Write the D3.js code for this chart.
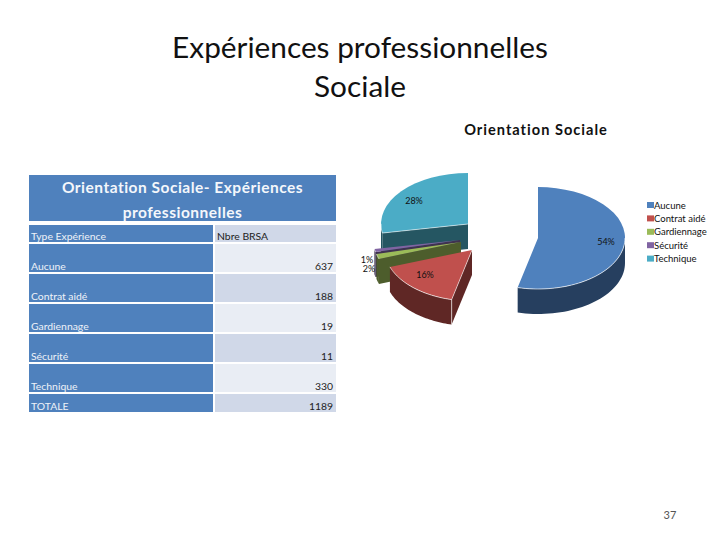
<!DOCTYPE html>
<html><head><meta charset="utf-8"><style>html,body{margin:0;background:#fff}svg{display:block;font-family:Lato,sans-serif}</style>
<script src="https://cdn.jsdelivr.net/npm/d3@7/dist/d3.min.js"></script></head><body>
<script>
const categories=["Aucune","Contrat aidé","Gardiennage","Sécurité","Technique"];
const values=[637,188,19,11,330];
const totalValue=1189;
const percentLabels=["54%","16%","2%","1%","28%"];
const topColors=["#4f81bd","#c0504d","#9bbb59","#8064a2","#4bacc6"];
const wallColors=["#263f5f","#5f2725","#4d5d2c","#3f3250","#255662"];
const centers=[[538,238],[472,250],[461,242],[460,240],[468,224]];
const labelPos=[[606,242],[425,275],[369,269],[367,260],[414,201]];
const rx=87,ry=51,depth=25;
const svg=d3.select("body").append("svg").attr("width",720).attr("height",540);
svg.selectAll("text.t").data(["Expériences professionnelles","Sociale"]).join("text")
 .attr("x",360).attr("y",(d,i)=>57.5+i*39.5).attr("text-anchor","middle").attr("font-size",29.8).attr("fill","#111").text(d=>d);
svg.append("text").attr("x",536).attr("y",135).attr("text-anchor","middle").attr("font-size",14.6).attr("font-weight",700).attr("letter-spacing",1).attr("fill","#111").text("Orientation Sociale");
svg.append("text").attr("x",670).attr("y",519).attr("text-anchor","middle").attr("font-size",11).attr("fill","#555").text("37");
const x0=29,x1=213,x2=215,x3=336;
const rowsTable=[["Type Expérience","Nbre BRSA"]].concat(categories.map((c,i)=>[c,values[i]]),[["TOTALE",totalValue]]);
const rowTop=[225,244,274,304,334,364,394], rowBot=[242,272,302,332,362,392,412];
const tb=svg.append("g");
tb.append("rect").attr("x",x0).attr("y",175).attr("width",x3-x0).attr("height",46).attr("fill","#4f81bd");
["Orientation Sociale- Expériences","professionnelles"].forEach((t,i)=>tb.append("text").attr("x",(x0+x3)/2).attr("y",193+i*25).attr("text-anchor","middle").attr("font-size",15.5).attr("font-weight",700).attr("letter-spacing",0.5).attr("fill","#f4f7fb").text(t));
rowsTable.forEach((r,i)=>{
 tb.append("rect").attr("x",x0).attr("y",rowTop[i]).attr("width",x1-x0).attr("height",rowBot[i]-rowTop[i]).attr("fill","#4f81bd");
 tb.append("rect").attr("x",x2).attr("y",rowTop[i]).attr("width",x3-x2).attr("height",rowBot[i]-rowTop[i]).attr("fill",i%2?"#e9edf4":"#d0d8e8");
 tb.append("text").attr("x",x0+2).attr("y",rowBot[i]-2).attr("font-size",10.4).attr("fill","#eef2f8").text(r[0]);
 if(i==0) tb.append("text").attr("x",217).attr("y",rowBot[i]-2).attr("font-size",10.4).attr("fill","#222").text(r[1]);
 else tb.append("text").attr("x",333).attr("y",rowBot[i]-2).attr("text-anchor","end").attr("font-size",10.4).attr("fill","#222").text(r[1]);
});
const arcs=d3.pie().sort(null)(values);
const arc=d3.arc().innerRadius(0).outerRadius(rx);
const pt=(c,a)=>[c[0]+rx*Math.sin(a),c[1]-ry*Math.cos(a)];
const order=[0,4,3,2,1];
const g=svg.append("g"), labels=svg.append("g");
order.forEach(i=>{
 const a=arcs[i],c=centers[i];
 if(i!=0){
  const p=pt(c,a.startAngle);
  g.append("path").attr("d",d3.line()([c,p,[p[0],p[1]+depth],[c[0],c[1]+depth]])+"Z").attr("fill",wallColors[i]);
 }
 const s=Math.max(a.startAngle,Math.PI/2),e=Math.min(a.endAngle,Math.PI*1.5);
 let rim=null;
 if(e>s){
  const top=d3.range(0,41).map(k=>pt(c,s+(e-s)*k/40));
  const bot=top.map(p=>[p[0],p[1]+depth]).reverse();
  g.append("path").attr("d",d3.line()(top.concat(bot))+"Z").attr("fill",wallColors[i]);
  rim=top;
 }
 g.append("path").attr("transform",`translate(${c[0]},${c[1]}) scale(1,${ry/rx})`).attr("d",arc(a)).attr("fill",topColors[i]);
 if(rim) g.append("path").attr("d",d3.line()(rim)).attr("fill","none").attr("stroke","#fff").attr("stroke-opacity",0.8).attr("stroke-width",0.8);
 if(i==1||i==4){
  const p=pt(c,a.startAngle);
  g.append("path").attr("d",d3.line()([c,p])).attr("stroke","#fff").attr("stroke-opacity",0.7).attr("stroke-width",0.8);
  if(i==1) g.append("path").attr("d",d3.line()([p,[p[0],p[1]+depth]])).attr("stroke","#fff").attr("stroke-opacity",0.8).attr("stroke-width",0.8);
 }
 labels.append("text").attr("x",labelPos[i][0]).attr("y",labelPos[i][1]+3).attr("text-anchor","middle").attr("font-size",9).attr("fill","#111").text(percentLabels[i]);
});
categories.forEach((c,i)=>{
 const y=205+i*13.4;
 svg.append("rect").attr("x",647).attr("y",y-3).attr("width",7).attr("height",6).attr("fill",topColors[i]);
 svg.append("text").attr("x",654).attr("y",y+3.5).attr("font-size",9.5).attr("fill","#111").text(c);
});
</script></body></html>
